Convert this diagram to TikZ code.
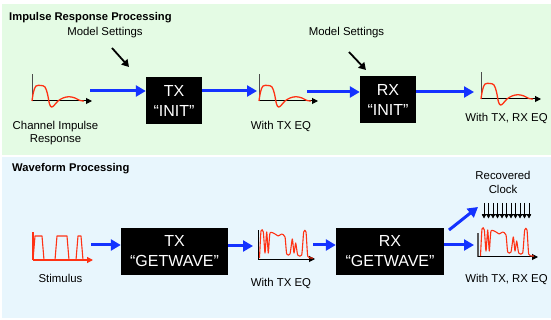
\documentclass[tikz,border=0pt]{standalone}
\usepackage{fontspec}
\setmainfont{Liberation Sans}
\usetikzlibrary{arrows.meta}
\definecolor{panelgreen}{RGB}{228,251,228}
\definecolor{panelblue}{RGB}{232,246,253}
\definecolor{arrowblue}{RGB}{20,50,255}
\definecolor{wavered}{RGB}{255,50,20}
\tikzset{
 lbl/.style={font=\fontsize{11.4}{13}\selectfont, inner sep=0pt, anchor=base},
 ttl/.style={font=\bfseries\fontsize{11.2}{13}\selectfont, inner sep=0pt, anchor=base west},
 blk/.style={fill=black, text=white, font=\fontsize{16}{20}\selectfont, align=center, inner sep=0pt},
 bluarr/.style={draw=arrowblue, line width=3pt, -{Triangle[length=10pt,width=11pt]}},
 blkarr/.style={draw=black, line width=1.8pt, -{Triangle[length=7pt,width=8pt]}},
 axisarr/.style={draw=black, line width=1pt, -{Triangle[length=6pt,width=6pt]}},
 wave/.style={draw=wavered, line width=1.3pt, line join=round},
 clkarr/.style={draw=black, line width=0.8pt, -{Triangle[length=4pt,width=4.2pt]}},
}
\newcommand\impwave[3]{%
 \begin{scope}[shift={(#1,#2)}]
  \draw[gray!60!black, line width=1pt] (0,0) -- (0,-27);
  \draw[axisarr] (0,0) -- (#3,0);
  \draw[wave] plot[smooth,tension=0.55] coordinates {(0,0) (1.5,-9) (4,-15) (9,-15.5) (13,-14) (15.5,-7) (17.5,3) (19.5,6) (22,4.5) (26,0) (31,-3) (37,-4.3) (43,-3) (48,-0.5) (52,0)};
 \end{scope}}
\newcommand\noisywave[2]{%
 \begin{scope}[shift={(#1,#2)}]
  \draw[wave, line width=1.1pt] plot[smooth,tension=0.35] coordinates {(1.5,-1) (3,-28) (5.3,-27) (7,-6) (8.7,-27) (10.3,-6) (12,-26) (17,-25) (20.3,-23) (23.7,-25) (27,-22) (28.7,-5) (32,-5) (34.3,-20) (36,-6) (37.7,-16) (39.7,-4) (43.7,-4) (45.7,-27) (48,-27) (49.7,-3) (53,-1) (55,-1)};
 \end{scope}}
\begin{document}
\begin{tikzpicture}[x=1pt,y=-1pt]
\useasboundingbox (0,0) rectangle (551,320);
\fill[white] (0,0) rectangle (551,320);
\fill[panelgreen] (2,4) rectangle (551,155);
\fill[panelblue] (2,157) rectangle (551,318);

% ---------- Impulse response processing ----------
\node[ttl] (t1) at (9,20.5) {Impulse Response Processing};
\node[lbl] (ms1) at (105,36) {Model Settings};
\node[lbl] (ms2) at (346.5,36) {Model Settings};

\node[blk, minimum width=56pt, minimum height=47pt] (txinit) at (174,100.5) {TX\\“INIT”};
\node[blk, minimum width=56pt, minimum height=47pt] (rxinit) at (388,99.5) {RX\\“INIT”};

\coordinate (ms1a) at (112,48);
\coordinate (ms1b) at (129,67);
\coordinate (ms2a) at (349,52);
\coordinate (ms2b) at (366,70);
\draw[blkarr] (ms1a) -- (ms1b);
\draw[blkarr] (ms2a) -- (ms2b);

\impwave{32}{101}{60}
\impwave{259}{101}{59}
\impwave{481}{99}{60}

\coordinate (a1) at (90,91);
\coordinate (a2) at (257,91);
\coordinate (a3) at (307,92);
\coordinate (a4) at (474,92);
\draw[bluarr] (a1) -- (a1 -| txinit.west);
\draw[bluarr] (a2 -| txinit.east) -- (a2);
\draw[bluarr] (a3) -- (a3 -| rxinit.west);
\draw[bluarr] (a4 -| rxinit.east) -- (a4);

\node[lbl, anchor=center, align=center, font=\fontsize{11.4}{13}\selectfont] (chan) at (55.5,133.5) {Channel Impulse\\Response};
\node[lbl] (wtx1) at (281,130) {With TX EQ};
\node[lbl] (wtxrx1) at (506.5,121.5) {With TX, RX EQ};

% ---------- Waveform processing ----------
\node[ttl] (t2) at (12,171.5) {Waveform Processing};

\node[blk, minimum width=107pt, minimum height=47pt] (txgw) at (174.5,251.5) {TX\\“GETWAVE”};
\node[blk, minimum width=108pt, minimum height=47pt] (rxgw) at (390,251.5) {RX\\“GETWAVE”};

% stimulus
\draw[wavered, line width=1.2pt] (33,260) -- (33,232);
\draw[wavered, line width=1.2pt, -{Triangle[length=6pt,width=6pt]}] (33,260) -- (93,260);
\draw[wave, line width=1.1pt] (33,260) -- (35,236) -- (42,236) -- (44,260) -- (55,260) -- (57,236) -- (67,236) -- (69,260) -- (76,260) -- (78,236) -- (81,236) -- (83,260);

% TX EQ waveform
\draw[black, line width=0.8pt] (258,259) -- (258,230);
\draw[axisarr] (258,259) -- (315,259);
\noisywave{258}{259}

% RX EQ waveform
\draw[gray!70!black, line width=1.6pt] (478,257) -- (478,233);
\draw[axisarr] (478,257) -- (538,257);
\noisywave{479}{257}

% recovered clock
\draw[black, line width=0.8pt] (482,214) -- (531,214);
\foreach \i in {0,...,10} {
  \draw[clkarr] ({484+4.5*\i},203) -- ({484+4.5*\i},218.5);
}

\coordinate (b1) at (91,245);
\coordinate (b2) at (253,246);
\coordinate (b3) at (313,245);
\coordinate (b4) at (474,245);
\coordinate (b5s) at (449,230);
\coordinate (b5) at (478,207);
\draw[bluarr] (b1) -- (b1 -| txgw.west);
\draw[bluarr] (b2 -| txgw.east) -- (b2);
\draw[bluarr] (b3) -- (b3 -| rxgw.west);
\draw[bluarr] (b4 -| rxgw.east) -- (b4);
\draw[bluarr] (b5s) -- (b5);

\node[lbl] (stim) at (60.5,282.7) {Stimulus};
\node[lbl] (wtx2) at (281,286.7) {With TX EQ};
\node[lbl] (wtxrx2) at (506.5,282.5) {With TX, RX EQ};
\node[lbl, anchor=center, align=center, font=\fontsize{11.4}{14}\selectfont] (clk) at (503,182.3) {Recovered\\Clock};
\end{tikzpicture}
\end{document}
